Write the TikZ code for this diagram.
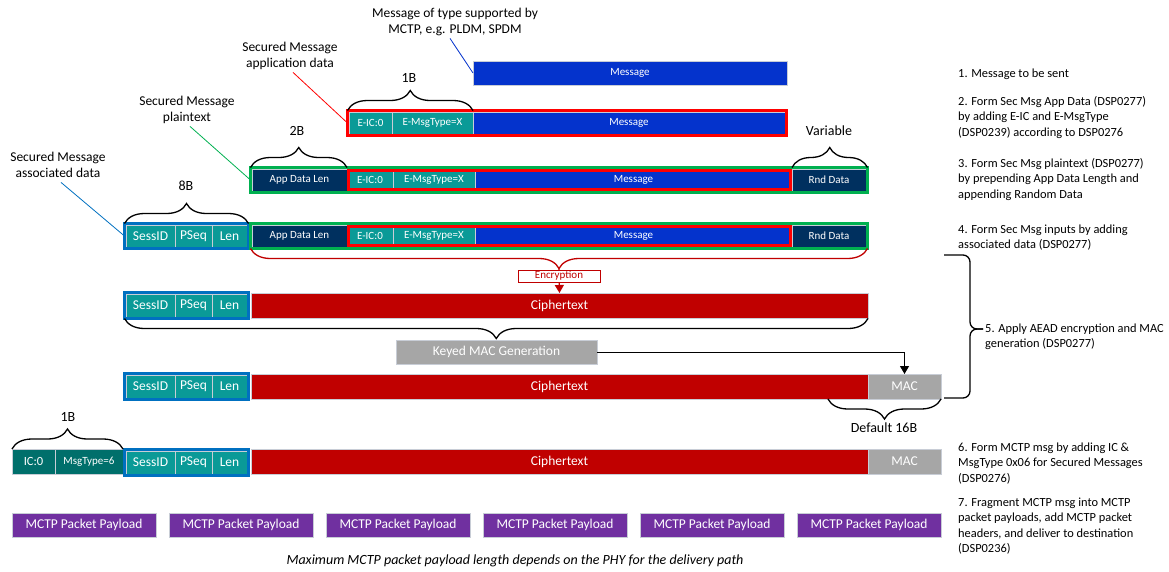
\documentclass[tikz,border=0pt]{standalone}
\usepackage{fontspec}
\setmainfont{Carlito}
\usetikzlibrary{positioning,fit,arrows.meta,decorations.pathreplacing}
\definecolor{SMTeal}{HTML}{0A9A97}
\definecolor{SMDarkTeal}{HTML}{006F6B}
\definecolor{SMBlue}{HTML}{0433CC}
\definecolor{SMNavy}{HTML}{00305F}
\definecolor{SMCipher}{HTML}{C00000}
\definecolor{SMGray}{HTML}{A6A6A6}
\definecolor{SMPurple}{HTML}{7030A0}
\definecolor{SMRed}{HTML}{FF0000}
\definecolor{SMGreen}{HTML}{00B050}
\definecolor{SMFrame}{HTML}{0070C0}
\definecolor{SMEdge}{HTML}{C8CDD6}

\begin{document}
\begin{tikzpicture}[x=1pt,y=-1pt,
  cell/.style={draw=SMEdge,line width=0.5pt,text=white,inner sep=0pt,outer sep=0pt,anchor=north west},
  txtS/.style={font=\fontsize{11}{13}\selectfont},
  txtL/.style={font=\fontsize{13.5}{16}\selectfont},
  boxframe/.style={draw=#1,line width=3pt,inner sep=1.5pt,outer sep=0pt},
  sizebrace/.style={decorate,decoration={brace,amplitude=20pt},line width=1.3pt},
  sizelbl/.style={font=\fontsize{14}{16}\selectfont},
  fieldnote/.style={anchor=north,align=center,inner sep=0pt,font=\fontsize{13.5}{16}\selectfont},
  stepnote/.style={anchor=north west,align=left,inner sep=0pt,font=\fontsize{12.4}{15.5}\selectfont},
  leader/.style={line width=0.8pt},
]
\path[use as bounding box] (0,0) rectangle (1169,571);

% row 1: message
\node[cell,fill=SMBlue,minimum width=314pt,minimum height=24pt,txtS] (msg1) at (473,61) {Message};

% row 2: application data
\node[cell,fill=SMTeal,minimum width=43pt,minimum height=22pt,txtS] (eic2) at (349,112) {E-IC:0};
\node[cell,fill=SMTeal,minimum width=81pt,minimum height=22pt,txtS,right=0pt of eic2] (etype2) {E-MsgType=X};
\node[cell,fill=SMBlue,minimum width=312pt,minimum height=22pt,txtS,right=0pt of etype2] (msg2) {Message};
\node[boxframe=SMRed,fit=(eic2)(msg2)] (appdata2) {};

% row 3: plaintext
\node[cell,fill=SMNavy,minimum width=95pt,minimum height=22pt,txtS] (adl3) at (252,169) {App Data Len};
\node[cell,fill=SMTeal,minimum width=46pt,minimum height=22pt,txtS,right=0pt of adl3] (eic3) {E-IC:0};
\node[cell,fill=SMTeal,minimum width=82pt,minimum height=22pt,txtS,right=0pt of eic3] (etype3) {E-MsgType=X};
\node[cell,fill=SMBlue,minimum width=317pt,minimum height=22pt,txtS,right=0pt of etype3] (msg3) {Message};
\node[cell,fill=SMNavy,minimum width=74pt,minimum height=22pt,txtS,right=0pt of msg3] (rnd3) {Rnd Data};
\node[boxframe=SMRed,inner sep=-1.5pt,fit=(eic3)(msg3)] (appdata3) {};
\node[boxframe=SMGreen,fit=(adl3)(rnd3)] (plain3) {};

% row 4: associated data + plaintext
\node[cell,fill=SMTeal,minimum width=49pt,minimum height=22pt,txtL] (sess4) at (126,225) {SessID};
\node[cell,fill=SMTeal,minimum width=37pt,minimum height=22pt,txtL,right=0pt of sess4] (pseq4) {PSeq};
\node[cell,fill=SMTeal,minimum width=35pt,minimum height=22pt,txtL,right=0pt of pseq4] (len4) {Len};
\node[boxframe=SMFrame,fit=(sess4)(len4)] (assoc4) {};
\node[cell,fill=SMNavy,minimum width=95pt,minimum height=22pt,txtS] (adl4) at (252,225) {App Data Len};
\node[cell,fill=SMTeal,minimum width=46pt,minimum height=22pt,txtS,right=0pt of adl4] (eic4) {E-IC:0};
\node[cell,fill=SMTeal,minimum width=82pt,minimum height=22pt,txtS,right=0pt of eic4] (etype4) {E-MsgType=X};
\node[cell,fill=SMBlue,minimum width=317pt,minimum height=22pt,txtS,right=0pt of etype4] (msg4) {Message};
\node[cell,fill=SMNavy,minimum width=74pt,minimum height=22pt,txtS,right=0pt of msg4] (rnd4) {Rnd Data};
\node[boxframe=SMRed,inner sep=-1.5pt,fit=(eic4)(msg4)] (appdata4) {};
\node[boxframe=SMGreen,fit=(adl4)(rnd4)] (plain4) {};

% row 5: encrypted
\node[cell,fill=SMTeal,minimum width=49pt,minimum height=23pt,txtL] (sess5) at (126,294) {SessID};
\node[cell,fill=SMTeal,minimum width=37pt,minimum height=23pt,txtL,right=0pt of sess5] (pseq5) {PSeq};
\node[cell,fill=SMTeal,minimum width=35pt,minimum height=23pt,txtL,right=0pt of pseq5] (len5) {Len};
\node[boxframe=SMFrame,fit=(sess5)(len5)] (hdr5) {};
\node[cell,fill=SMCipher,minimum width=617pt,minimum height=25pt,txtL] (ct5) at (251,293) {Ciphertext};

% encryption step
\draw[sizebrace,SMCipher] (plain4.south east) -- (plain4.south west);
\draw[SMCipher,line width=1.2pt,-{Triangle[width=9pt,length=8pt]}] ([yshift=-20pt]plain4.south) -- (ct5.north);
\node[draw=SMCipher,fill=white,text=SMCipher,line width=0.8pt,minimum width=82pt,minimum height=12pt,inner sep=0pt,txtS] (enc) at (559,276) {Encryption};

% MAC generation
\draw[sizebrace] (hdr5.south -| ct5.east) -- (hdr5.south west);
\node[cell,fill=SMGray,minimum width=201pt,minimum height=24pt,txtL] (kmac) at (396,340) {Keyed MAC Generation};

% row 6: with MAC
\node[cell,fill=SMTeal,minimum width=49pt,minimum height=23pt,txtL] (sess6) at (126,375) {SessID};
\node[cell,fill=SMTeal,minimum width=37pt,minimum height=23pt,txtL,right=0pt of sess6] (pseq6) {PSeq};
\node[cell,fill=SMTeal,minimum width=35pt,minimum height=23pt,txtL,right=0pt of pseq6] (len6) {Len};
\node[boxframe=SMFrame,fit=(sess6)(len6)] (hdr6) {};
\node[cell,fill=SMCipher,minimum width=617pt,minimum height=25pt,txtL] (ct6) at (251,374) {Ciphertext};
\node[cell,fill=SMGray,minimum width=73pt,minimum height=25pt,txtL,right=0pt of ct6] (mac6) {MAC};
\draw[line width=1pt,-{Triangle[width=9pt,length=8pt]}] (kmac.east) -| (mac6.north);
\draw[sizebrace] (mac6.south east) -- ([xshift=-40pt]mac6.south west);
\node[sizelbl] (b16) at (884,428) {Default 16B};

% AEAD brace
\draw[line width=1.3pt,rounded corners=7pt] (944,255) -- (970,255) -- (970,329) -- (983,329);
\draw[line width=1.3pt,rounded corners=7pt] (944,398) -- (970,398) -- (970,329) -- (983,329);

% row 7: MCTP message
\node[cell,fill=SMDarkTeal,minimum width=43pt,minimum height=25pt,font=\fontsize{12.5}{15}\selectfont] (ic7) at (12,449) {IC:0};
\node[cell,fill=SMDarkTeal,minimum width=68pt,minimum height=25pt,txtS,right=0pt of ic7] (mt7) {MsgType=6};
\node[cell,fill=SMTeal,minimum width=49pt,minimum height=23pt,txtL] (sess7) at (126,451) {SessID};
\node[cell,fill=SMTeal,minimum width=37pt,minimum height=23pt,txtL,right=0pt of sess7] (pseq7) {PSeq};
\node[cell,fill=SMTeal,minimum width=35pt,minimum height=23pt,txtL,right=0pt of pseq7] (len7) {Len};
\node[boxframe=SMFrame,fit=(sess7)(len7)] (hdr7) {};
\node[cell,fill=SMCipher,minimum width=617pt,minimum height=25pt,txtL] (ct7) at (251,449) {Ciphertext};
\node[cell,fill=SMGray,minimum width=73pt,minimum height=25pt,txtL,right=0pt of ct7] (mac7) {MAC};

% size braces
\draw[sizebrace] (appdata2.north west) -- (appdata2.north -| etype2.east);
\node[sizelbl] (b1) at (409,78) {1B};
\draw[sizebrace] (plain3.north west) -- (plain3.north -| adl3.east);
\node[sizelbl] (b2) at (297,131) {2B};
\draw[sizebrace] (plain3.north -| rnd3.west) -- (plain3.north east);
\node[sizelbl] (bvar) at (829,131) {Variable};
\draw[sizebrace] (assoc4.north west) -- (assoc4.north east);
\node[sizelbl] (b8) at (186,186) {8B};
\draw[sizebrace] (ic7.north west) -- (mt7.north east);
\node[sizelbl] (b1m) at (68,417) {1B};

% packet payloads
\node[cell,fill=SMPurple,minimum width=144pt,minimum height=24pt,txtL] (pl1) at (12,513) {MCTP Packet Payload};
\node[cell,fill=SMPurple,minimum width=144pt,minimum height=24pt,txtL] (pl2) at (169,513) {MCTP Packet Payload};
\node[cell,fill=SMPurple,minimum width=144pt,minimum height=24pt,txtL] (pl3) at (326,513) {MCTP Packet Payload};
\node[cell,fill=SMPurple,minimum width=144pt,minimum height=24pt,txtL] (pl4) at (483,513) {MCTP Packet Payload};
\node[cell,fill=SMPurple,minimum width=144pt,minimum height=24pt,txtL] (pl5) at (640,513) {MCTP Packet Payload};
\node[cell,fill=SMPurple,minimum width=144pt,minimum height=24pt,txtL] (pl6) at (797,513) {MCTP Packet Payload};
\node[font=\fontsize{14}{16}\selectfont\itshape] (caption) at (515,561) {Maximum MCTP packet payload length depends on the PHY for the delivery path};

% field notes
\node[fieldnote] (lblmsg) at (455,6) {\strut Message of type supported by\\\strut MCTP, e.g. PLDM, SPDM};
\node[fieldnote] (lblapp) at (290,40) {\strut Secured Message\\\strut application data};
\node[fieldnote] (lblplain) at (187,94) {\strut Secured Message\\\strut plaintext};
\node[fieldnote] (lblassoc) at (58,150) {\strut Secured Message\\\strut associated data};
\draw[leader,SMBlue] ([xshift=-5pt]lblmsg.south) -- (msg1.west);
\draw[leader,SMRed] ([xshift=3pt]lblapp.south) -- (appdata2.west);
\draw[leader,SMGreen] ([xshift=3pt]lblplain.south) -- (plain3.west);
\draw[leader,SMFrame] ([xshift=3pt]lblassoc.south) -- (assoc4.west);

% steps
\node[stepnote] (step1) at (958,66) {\strut 1. Message to be sent};
\node[stepnote] (step2) at (958,94) {\strut 2. Form Sec Msg App Data (DSP0277)\\by adding E-IC and E-MsgType\\(DSP0239) according to DSP0276};
\node[stepnote] (step3) at (958,156) {\strut 3. Form Sec Msg plaintext (DSP0277)\\by prepending App Data Length and\\appending Random Data};
\node[stepnote] (step4) at (958,222) {\strut 4. Form Sec Msg inputs by adding\\associated data (DSP0277)};
\node[stepnote] (step5) at (985,321) {\strut 5. Apply AEAD encryption and MAC\\generation (DSP0277)};
\node[stepnote] (step6) at (958,440) {\strut 6. Form MCTP msg by adding IC \&\\MsgType 0x06 for Secured Messages\\(DSP0276)};
\node[stepnote] (step7) at (958,495) {\strut 7. Fragment MCTP msg into MCTP\\packet payloads, add MCTP packet\\headers, and deliver to destination\\(DSP0236)};
\end{tikzpicture}
\end{document}
